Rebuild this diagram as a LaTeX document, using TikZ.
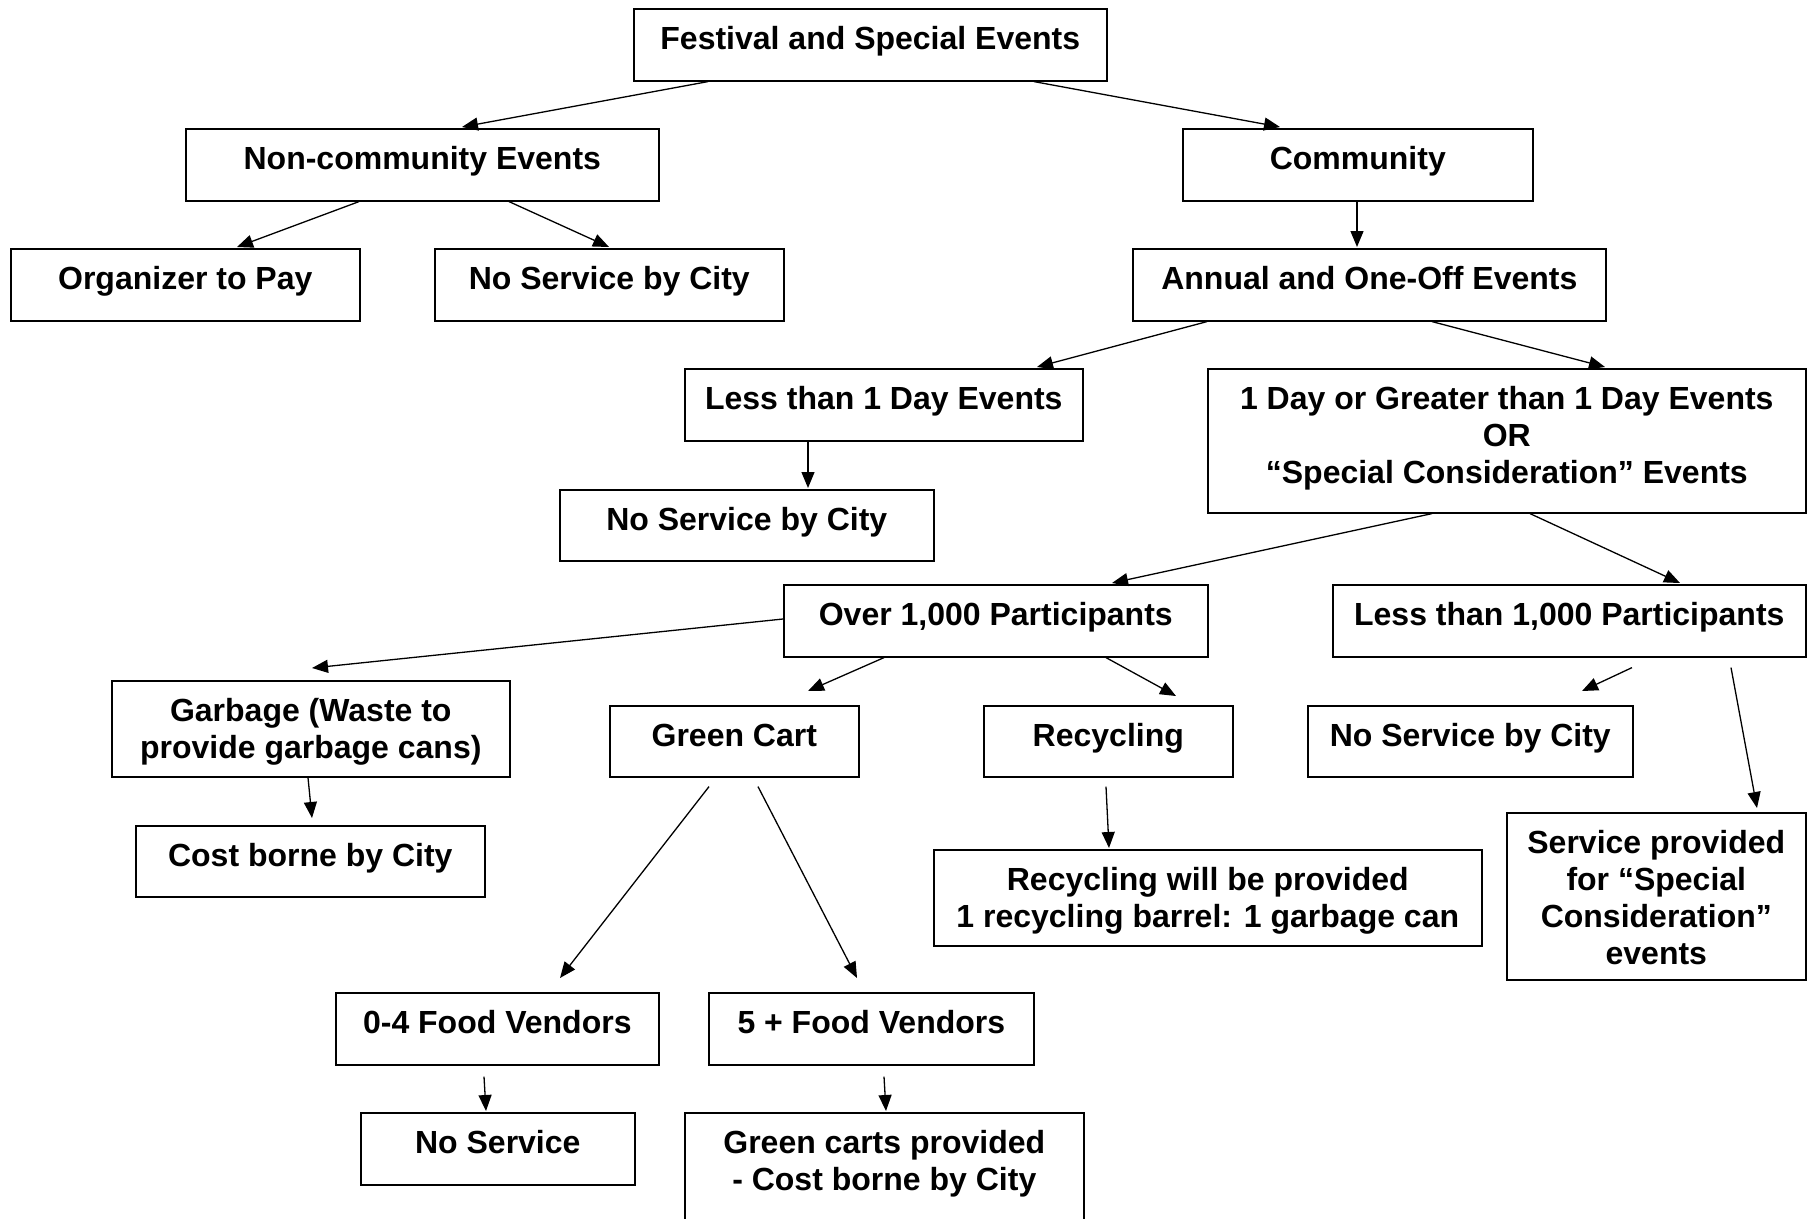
\documentclass[tikz,border=0pt]{standalone}
\usepackage{fontspec}
\setmainfont{Liberation Sans}
\usetikzlibrary{calc,arrows.meta}
\begin{document}
\begin{tikzpicture}[x=1pt,y=-1pt,
  bx/.style={draw, line width=1.6pt, anchor=north west, inner sep=0pt},
  txt/.style={anchor=north, inner sep=0pt, align=center, font=\fontsize{32}{37}\selectfont\bfseries},
  arr/.style={line width=1.3pt, -{Triangle[length=16pt,width=13pt]}}]
\useasboundingbox (0,0) rectangle (1811,1218);
\newcommand\st{\rule{0pt}{24pt}}
% boxes
\node[bx, minimum width=473, minimum height=72] (b1) at (633,8) {};
\node[bx, minimum width=473, minimum height=72] (b2) at (185,128) {};
\node[bx, minimum width=350, minimum height=72] (b3) at (1182,128) {};
\node[bx, minimum width=349, minimum height=72] (b4) at (10,248) {};
\node[bx, minimum width=349, minimum height=72] (b5) at (434,248) {};
\node[bx, minimum width=473, minimum height=72] (b6) at (1132,248) {};
\node[bx, minimum width=398, minimum height=72] (b7) at (684,368) {};
\node[bx, minimum width=598, minimum height=144] (b8) at (1207,368) {};
\node[bx, minimum width=374, minimum height=71] (b9) at (559,489) {};
\node[bx, minimum width=424, minimum height=72] (b10) at (783,584) {};
\node[bx, minimum width=473, minimum height=72] (b11) at (1332,584) {};
\node[bx, minimum width=398, minimum height=96] (b12) at (111,680) {};
\node[bx, minimum width=249, minimum height=71] (b13) at (609,705) {};
\node[bx, minimum width=249, minimum height=71] (b14) at (983,705) {};
\node[bx, minimum width=325, minimum height=71] (b15) at (1307,705) {};
\node[bx, minimum width=349, minimum height=71] (b16) at (135,825) {};
\node[bx, minimum width=548, minimum height=96] (b17) at (933,849) {};
\node[bx, minimum width=299, minimum height=167] (b18) at (1506,812) {};
\node[bx, minimum width=323, minimum height=72] (b19) at (335,992) {};
\node[bx, minimum width=325, minimum height=72] (b20) at (708,992) {};
\node[bx, minimum width=274, minimum height=72] (b21) at (360,1112) {};
\node[bx, minimum width=399, minimum height=130] (b22) at (684,1112) {};
% texts
\node[txt] (t1) at ($(b1.north)+(0,17)$) {\st Festival and Special Events};
\node[txt] (t2) at ($(b2.north)+(0,17)$) {\st Non-community Events};
\node[txt] (t3) at ($(b3.north)+(0,17)$) {\st Community};
\node[txt] (t4) at ($(b4.north)+(0,17)$) {\st Organizer to Pay};
\node[txt] (t5) at ($(b5.north)+(0,17)$) {\st No Service by City};
\node[txt] (t6) at ($(b6.north)+(0,17)$) {\st Annual and One-Off Events};
\node[txt] (t7) at ($(b7.north)+(0,17)$) {\st Less than 1 Day Events};
\node[txt] (t8) at ($(b8.north)+(0,17)$) {\st 1 Day or Greater than 1 Day Events\\OR\\“Special Consideration” Events};
\node[txt] (t9) at ($(b9.north)+(0,17)$) {\st No Service by City};
\node[txt] (t10) at ($(b10.north)+(0,17)$) {\st Over 1,000 Participants};
\node[txt] (t11) at ($(b11.north)+(0,17)$) {\st Less than 1,000 Participants};
\node[txt] (t12) at ($(b12.north)+(0,17)$) {\st Garbage (Waste to\\provide garbage cans)};
\node[txt] (t13) at ($(b13.north)+(0,17)$) {\st Green Cart};
\node[txt] (t14) at ($(b14.north)+(0,17)$) {\st Recycling};
\node[txt] (t15) at ($(b15.north)+(0,17)$) {\st No Service by City};
\node[txt] (t16) at ($(b16.north)+(0,17)$) {\st Cost borne by City};
\node[txt] (t17) at ($(b17.north)+(0,17)$) {\st Recycling will be provided\\1 recycling barrel: 1 garbage can};
\node[txt] (t18) at ($(b18.north)+(0,17)$) {\st Service provided\\for “Special\\Consideration”\\events};
\node[txt] (t19) at ($(b19.north)+(0,17)$) {\st 0-4 Food Vendors};
\node[txt] (t20) at ($(b20.north)+(0,17)$) {\st 5 + Food Vendors};
\node[txt] (t21) at ($(b21.north)+(0,17)$) {\st No Service};
\node[txt] (t22) at ($(b22.north)+(0,17)$) {\st Green carts provided\\- Cost borne by City};
% arrows
\draw[arr] ($(b1.south west)+(75,0)$) -- ($(b2.north west)+(277,-1)$);
\draw[arr] ($(b1.south west)+(401,0)$) -- ($(b3.north west)+(98,-1)$);
\draw[arr] ($(b2.south west)+(174,0)$) -- ($(b4.north west)+(227,-1)$);
\draw[arr] ($(b2.south west)+(324,0)$) -- ($(b5.north west)+(175,-1)$);
\draw[arr] ($(b3.south west)+(175,0)$) -- ($(b6.north west)+(225,-1)$);
\draw[arr] ($(b6.south west)+(75,0)$) -- ($(b7.north west)+(353,-1)$);
\draw[arr] ($(b6.south west)+(300,0)$) -- ($(b8.north west)+(398,-1)$);
\draw[arr] ($(b7.south west)+(124,0)$) -- ($(b9.north west)+(249,-1)$);
\draw[arr] ($(b8.south west)+(225,0)$) -- ($(b10.north west)+(329,-1)$);
\draw[arr] ($(b8.south west)+(323,0)$) -- ($(b11.north west)+(348,-1)$);
\draw[arr] ($(b10.north west)+(0,35)$) -- ($(b12.north west)+(201,-12)$);
\draw[arr] ($(b10.south west)+(101,0)$) -- ($(b13.north west)+(199,-14)$);
\draw[arr] ($(b10.south west)+(323,0)$) -- ($(b14.north west)+(193,-9)$);
\draw[arr] ($(b11.south west)+(300,10)$) -- ($(b15.north west)+(275,-14)$);
\draw[arr] ($(b11.south west)+(399,10)$) -- ($(b18.north west)+(251,-4)$);
\draw[arr] ($(b12.south west)+(197,0)$) -- ($(b16.north west)+(177,-7)$);
\draw[arr] ($(b13.south west)+(100,9)$) -- ($(b19.north west)+(225,-14)$);
\draw[arr] ($(b13.south west)+(149,9)$) -- ($(b20.north west)+(149,-14)$);
\draw[arr] ($(b14.south west)+(123,9)$) -- ($(b17.north west)+(176,-1)$);
\draw[arr] ($(b19.south west)+(149,11)$) -- ($(b21.north west)+(126,-1)$);
\draw[arr] ($(b20.south west)+(176,11)$) -- ($(b22.north west)+(202,-1)$);
\end{tikzpicture}
\end{document}
